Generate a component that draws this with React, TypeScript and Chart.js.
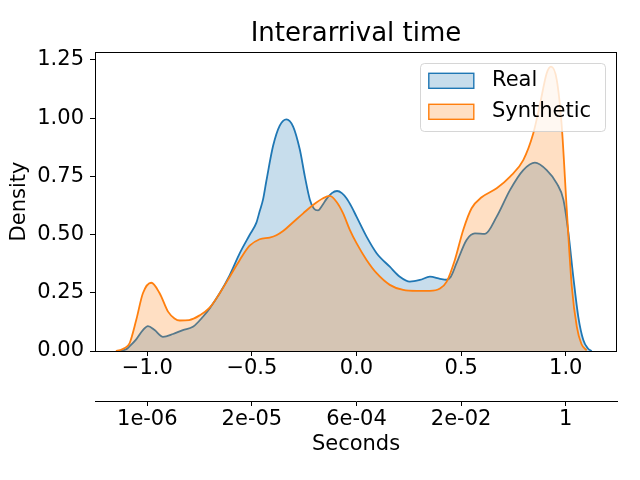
import React, { useEffect, useRef } from 'react';
import { Chart, registerables } from 'chart.js';

Chart.register(...registerables);

// ---- data ----
const seriesNames = ['Real', 'Synthetic'];
const seriesColors = ['#1f77b4', '#ff7f0e'];
const seriesFills = ['rgba(31,119,180,0.25)', 'rgba(255,127,14,0.25)'];

const realX = [-1.13, -1.1, -1.085, -1.053, -1.021, -0.997, -0.965, -0.925, -0.877, -0.83, -0.782, -0.734, -0.702, -0.654, -0.606, -0.558, -0.511, -0.479, -0.463, -0.447, -0.431, -0.399, -0.367, -0.335, -0.303, -0.271, -0.247, -0.223, -0.204, -0.184, -0.164, -0.144, -0.118, -0.093, -0.07, -0.048, -0.024, 0, 0.048, 0.096, 0.159, 0.207, 0.255, 0.303, 0.351, 0.399, 0.43, 0.45, 0.478, 0.526, 0.566, 0.614, 0.67, 0.734, 0.797, 0.853, 0.909, 0.957, 0.989, 1.013, 1.036, 1.06, 1.084, 1.105, 1.124];
const realY = [0, 0.008, 0.02, 0.05, 0.09, 0.107, 0.09, 0.061, 0.073, 0.09, 0.104, 0.147, 0.183, 0.248, 0.326, 0.42, 0.498, 0.55, 0.6, 0.65, 0.73, 0.88, 0.968, 0.995, 0.964, 0.865, 0.75, 0.65, 0.612, 0.604, 0.625, 0.652, 0.678, 0.687, 0.678, 0.656, 0.62, 0.577, 0.491, 0.42, 0.362, 0.319, 0.298, 0.305, 0.319, 0.31, 0.306, 0.318, 0.377, 0.477, 0.505, 0.503, 0.577, 0.692, 0.777, 0.809, 0.777, 0.72, 0.649, 0.505, 0.319, 0.147, 0.047, 0.012, 0];

const synthX = [-1.15, -1.13, -1.11, -1.085, -1.053, -1.021, -0.981, -0.941, -0.901, -0.87, -0.845, -0.8, -0.75, -0.702, -0.654, -0.606, -0.558, -0.511, -0.463, -0.415, -0.383, -0.351, -0.303, -0.255, -0.208, -0.16, -0.128, -0.096, -0.064, -0.032, 0, 0.048, 0.096, 0.159, 0.223, 0.287, 0.35, 0.399, 0.431, 0.47, 0.51, 0.55, 0.598, 0.67, 0.734, 0.797, 0.845, 0.877, 0.909, 0.93, 0.957, 0.981, 1.005, 1.029, 1.053, 1.075, 1.1];
const synthY = [0, 0.004, 0.012, 0.033, 0.133, 0.248, 0.293, 0.248, 0.169, 0.14, 0.131, 0.133, 0.153, 0.186, 0.248, 0.319, 0.391, 0.452, 0.48, 0.487, 0.497, 0.515, 0.553, 0.591, 0.627, 0.656, 0.666, 0.641, 0.591, 0.52, 0.463, 0.391, 0.334, 0.284, 0.262, 0.258, 0.258, 0.268, 0.298, 0.391, 0.52, 0.613, 0.66, 0.699, 0.749, 0.82, 0.935, 1.06, 1.193, 1.221, 1.164, 0.964, 0.606, 0.276, 0.104, 0.03, 0.003];

const xTickValues = [-1, -0.5, 0, 0.5, 1];
const xTickLabels = ['\u22121.0', '\u22120.5', '0.0', '0.5', '1.0'];
const secondsTickLabels = ['1e-06', '2e-05', '6e-04', '2e-02', '1'];
const yTickValues = [0, 0.25, 0.5, 0.75, 1.0, 1.25];
const yTickLabels = ['0.00', '0.25', '0.50', '0.75', '1.00', '1.25'];

const titleText = 'Interarrival time';
const xTitleText = 'Seconds';
const yTitleText = 'Density';

const FONT = "'DejaVu Sans', 'Liberation Sans', sans-serif";

const framePlugin = {
  id: 'frame',
  afterDatasetsDraw(chart: any) {
    const { ctx, chartArea } = chart;
    ctx.save();
    ctx.strokeStyle = '#000';
    ctx.lineWidth = 1;
    const l = Math.round(chartArea.left) + 0.5;
    const t = Math.round(chartArea.top) + 0.5;
    const r = Math.round(chartArea.right) - 0.5;
    const b = Math.round(chartArea.bottom) + 0.5;
    ctx.strokeRect(l, t, r - l, b - t);
    ctx.restore();
  },
};

function roundRectPath(ctx: CanvasRenderingContext2D, x: number, y: number, w: number, h: number, r: number) {
  ctx.beginPath();
  ctx.moveTo(x + r, y);
  ctx.lineTo(x + w - r, y);
  ctx.arcTo(x + w, y, x + w, y + r, r);
  ctx.lineTo(x + w, y + h - r);
  ctx.arcTo(x + w, y + h, x + w - r, y + h, r);
  ctx.lineTo(x + r, y + h);
  ctx.arcTo(x, y + h, x, y + h - r, r);
  ctx.lineTo(x, y + r);
  ctx.arcTo(x, y, x + r, y, r);
  ctx.closePath();
}

const innerLegendPlugin = {
  id: 'innerLegend',
  afterDraw(chart: any) {
    const { ctx, chartArea } = chart;
    const datasets = chart.data.datasets;
    const boxRight = chartArea.right - 11.5;
    const boxLeft = boxRight - 185;
    const boxTop = chartArea.top + 11.5;
    const boxH = 68;
    ctx.save();
    roundRectPath(ctx, boxLeft, boxTop, boxRight - boxLeft, boxH, 4);
    ctx.fillStyle = 'rgba(255,255,255,0.8)';
    ctx.fill();
    ctx.strokeStyle = 'rgba(204,204,204,0.8)';
    ctx.lineWidth = 1;
    ctx.stroke();
    ctx.font = `21px ${FONT}`;
    ctx.textBaseline = 'middle';
    ctx.textAlign = 'left';
    datasets.forEach((ds: any, i: number) => {
      const cy = boxTop + 17.3 + i * 31;
      const px = boxLeft + 8.3;
      ctx.fillStyle = ds.backgroundColor;
      ctx.fillRect(px, cy - 7.5, 45, 15);
      ctx.strokeStyle = ds.borderColor;
      ctx.lineWidth = 1.4;
      ctx.strokeRect(px, cy - 7.5, 45, 15);
      ctx.fillStyle = '#000';
      ctx.fillText(ds.label, boxLeft + 71.5, cy);
    });
    ctx.restore();
  },
};

export default function App() {
  const ref = useRef<HTMLCanvasElement>(null);

  useEffect(() => {
    document.body.style.margin = '0';
    const canvas = ref.current;
    if (!canvas) return;

    const realData = realX.map((x, i) => ({ x, y: realY[i] }));
    const synthData = synthX.map((x, i) => ({ x, y: synthY[i] }));

    const tickGrid = {
      drawOnChartArea: false,
      drawTicks: true,
      tickLength: 5,
      color: '#000',
      lineWidth: 1,
    };

    const chart = new Chart(canvas, {
      type: 'line',
      data: {
        datasets: [
          {
            label: seriesNames[0],
            data: realData,
            borderColor: seriesColors[0],
            backgroundColor: seriesFills[0],
            borderWidth: 1.8,
            fill: 'origin',
            pointRadius: 0,
            cubicInterpolationMode: 'monotone',
            order: 2,
          },
          {
            label: seriesNames[1],
            data: synthData,
            borderColor: seriesColors[1],
            backgroundColor: seriesFills[1],
            borderWidth: 1.8,
            fill: 'origin',
            pointRadius: 0,
            cubicInterpolationMode: 'monotone',
            order: 1,
          },
        ],
      },
      options: {
        animation: false,
        responsive: false,
        devicePixelRatio: 1,
        events: [],
        font: { family: FONT, size: 21 },
        color: '#000',
        layout: { padding: { left: 0, right: 23, top: 0, bottom: 0 } },
        plugins: {
          legend: { display: false },
          tooltip: { enabled: false },
          title: {
            display: true,
            text: titleText,
            fullSize: false,
            color: '#000',
            font: { family: FONT, size: 26, weight: 'normal' },
            padding: { top: 18.9, bottom: 1.9 },
          },
        },
        scales: {
          x: {
            type: 'linear',
            axis: 'x',
            position: 'bottom',
            min: -1.25,
            max: 1.245,
            afterBuildTicks: (s: any) => {
              s.ticks = xTickValues.map((v) => ({ value: v }));
            },
            afterFit: (s: any) => {
              s.height = 50;
            },
            ticks: {
              callback: (_v: any, i: number) => xTickLabels[i],
              padding: 0,
              color: '#000',
              maxRotation: 0,
              autoSkip: false,
              font: { family: FONT, size: 21 },
            },
            grid: tickGrid,
            border: { display: false },
          },
          x2: {
            type: 'linear',
            axis: 'x',
            position: 'bottom',
            min: -1.25,
            max: 1.245,
            afterBuildTicks: (s: any) => {
              s.ticks = xTickValues.map((v) => ({ value: v }));
            },
            afterFit: (s: any) => {
              s.height = 79;
            },
            ticks: {
              callback: (_v: any, i: number) => secondsTickLabels[i],
              padding: 1,
              color: '#000',
              maxRotation: 0,
              autoSkip: false,
              font: { family: FONT, size: 21 },
            },
            grid: tickGrid,
            border: { display: true, color: '#000', width: 1 },
            title: {
              display: true,
              text: xTitleText,
              color: '#000',
              font: { family: FONT, size: 21 },
              padding: { top: 0, bottom: 22.4 },
            },
          },
          y: {
            type: 'linear',
            position: 'left',
            min: 0,
            max: 1.284,
            afterBuildTicks: (s: any) => {
              s.ticks = yTickValues.map((v) => ({ value: v }));
            },
            afterFit: (s: any) => {
              s.width = 95;
            },
            ticks: {
              callback: (_v: any, i: number) => yTickLabels[i],
              padding: 6,
              color: '#000',
              autoSkip: false,
              font: { family: FONT, size: 21 },
            },
            grid: tickGrid,
            border: { display: false },
            title: {
              display: true,
              text: yTitleText,
              color: '#000',
              font: { family: FONT, size: 21 },
              padding: { top: 7.4, bottom: 0 },
            },
          },
        },
      } as any,
      plugins: [framePlugin, innerLegendPlugin],
    });

    return () => chart.destroy();
  }, []);

  return (
    <div style={{ width: 640, height: 480 }}>
      <canvas ref={ref} width={640} height={480} style={{ display: 'block', width: 640, height: 480 }} />
    </div>
  );
}
